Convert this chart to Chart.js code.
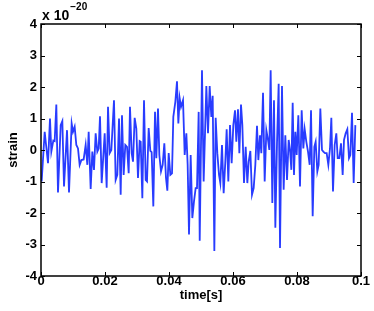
<!DOCTYPE html>
<html>
<head>
<meta charset="utf-8">
<script src="https://cdn.jsdelivr.net/npm/chart.js@4"></script>
<style>
  html, body { margin: 0; padding: 0; background: #fff; }
  canvas { display: block; }
</style>
</head>
<body>
<canvas id="chart" width="374" height="311"></canvas>
<script>
// time in milliseconds, strain in units of 1e-20
const timeMs = [
  0.2, 1.15, 2.19, 2.81, 3.23, 3.85, 4.27, 4.79, 5.31, 6.15,
  6.67, 7.19, 8.13, 8.75, 9.58, 10.0, 10.52, 11.04, 11.56, 12.08,
  12.6, 13.33, 13.96, 14.48, 14.9, 15.52, 16.04, 16.56, 17.08, 17.6,
  18.02, 18.44, 18.96, 19.9, 20.52, 20.94, 21.46, 21.98, 22.81, 23.33,
  23.85, 24.38,
  24.9, 25.31, 25.83, 26.35, 26.88, 27.4, 27.81, 28.33, 28.75, 29.27,
  29.79, 30.31, 30.83, 31.15, 31.67, 32.19, 32.71, 33.13, 33.65, 34.17,
  34.58, 35.1, 35.63, 36.04, 36.56, 36.98, 37.5, 38.02, 38.54, 39.06,
  39.48, 39.9, 40.42, 40.94, 41.35, 41.98, 42.5, 42.92, 43.33, 43.75,
  44.38, 44.9, 45.42, 45.83, 46.25, 46.77, 47.29, 47.81, 48.33, 48.75,
  49.27, 49.6,
  50.31, 50.83, 51.67, 52.19, 52.71, 53.23, 53.65, 54.17, 54.58, 55.1,
  55.63, 56.04, 56.56, 57.08, 57.6, 58.02, 58.54, 59.06, 59.58, 60.1,
  60.63, 61.04, 61.56, 61.98, 62.5, 62.92, 63.44, 63.96, 64.48, 64.9,
  65.42, 65.94, 66.46, 66.98, 67.5, 67.92, 68.44, 68.85, 69.38, 69.9,
  70.42, 70.94, 71.35, 71.77, 72.29, 72.81, 73.23, 73.75, 74.27, 74.69,
  75.31, 75.83, 76.35, 76.88, 77.4, 77.81, 78.23, 78.65, 79.06, 79.48,
  79.9, 80.42, 80.94, 81.46, 81.98, 82.4, 82.92, 83.44, 83.96, 84.38,
  84.9, 85.42, 85.83, 86.35, 86.77, 87.29, 87.81, 88.23, 88.75, 89.27,
  89.79, 90.31, 90.73, 91.25, 91.77, 92.29, 92.71, 93.23, 93.75, 94.27,
  94.69, 95.21, 95.73, 96.25, 96.67, 97.19, 97.71, 98.23
];
const strain = [
  -1.0, 0.58, -0.42, 1.0, -0.05, 0.3, 0.28, 1.44, -1.35, 0.79,
  0.92, -1.16, 0.63, -1.35, 0.84, 0.58, 0.74, 0.16, 0.05, -0.47,
  -0.32, -0.3, 0.16, -0.47, 0.58, -1.24, -0.05, -0.63, 0.53, -0.05,
  0.05, 1.07, -1.05, 0.53, -1.2, 1.37, -0.1, 0, 1.58, -0.95,
  -0.79, 1.0,
  -1.42, 1.1, -0.79, 0.16, 0.1, -0.74, 1.37, -0.1, -0.37, 1.02,
  0.68, -0.89, 0.28, 0.26, -1.53, 1.58, -0.95, -1.0, 0.7, -0.03,
  -0.07, -1.79, 1.21, -0.26, 1.32, -0.16, -0.68, -0.47, 0.21, -0.89,
  -1.29, -0.1, -0.79, -0.74, 1.05, 1.53, 2.18, 0.84, 1.65, 1.37,
  1.58, -0.16, 0.53, -0.47, -2.68, -0.16, -2.16, -1.63, -1.21, -1.21,
  1.21, -2.88,
  2.53, -1.0, 2.03, 0.53, 2.03, 1.05, 1.72, -3.21, 1.02, -0.1,
  -0.79, -1.05, 0.16, -1.37, -0.37, 0.66, -1.0, 0.79, -0.42, 0.79,
  1.26, 0.26, 1.29, -0.1, 1.44, 0.79, -1.05, 0.1, -1.05, -0.37,
  -0.03, -1.42, -1.21, -0.47, 0.77, -0.32, 0.47, -0.1, 1.82, -1.0,
  0.63, 0.32, 0, 2.53, -1.68, 1.58, -2.47, 0.21, 2.1, -3.11,
  2.03, -1.26, 0.47, -0.95, 0.32, 0, -0.63, 1.5, -0.79, 0.58,
  -0.16, 1.1, -1.16, 1.26, 0.05, 0.66, 0.26, -0.05, -0.47, 1.26,
  -2.1, 0.1, 0.26, -0.68, -0.47, 1.32, 0, -0.05, -0.1, -0.1,
  -0.47, 0.05, 1.02, -1.32, 0.16, 0.53, -0.26, -0.26, 0.21, -0.79,
  0.32, 0.53, 0.66, -0.26, -0.16, 1.18, -1.05, 0.79
];
const xTicks = [0, 0.02, 0.04, 0.06, 0.08, 0.1];
const yTicks = [-4, -3, -2, -1, 0, 1, 2, 3, 4];

const font = { family: "'Liberation Sans', Arial, sans-serif", weight: "bold", size: 13 };

// matlab style box with inward ticks + exponent label
const boxPlugin = {
    id: "box",
    afterDraw(c) {
        const ctx = c.ctx;
        const a = c.chartArea;
        const xs = c.scales.x, ys = c.scales.y;
        ctx.save();
        ctx.strokeStyle = "#000";
        ctx.lineWidth = 1.5;
        ctx.strokeRect(a.left, a.top, a.right - a.left, a.bottom - a.top);
        ctx.lineWidth = 1;
        ctx.beginPath();
        xTicks.forEach(v => {
            const px = Math.round(xs.getPixelForValue(v)) + 0.5;
            ctx.moveTo(px, a.bottom); ctx.lineTo(px, a.bottom - 4);
            ctx.moveTo(px, a.top); ctx.lineTo(px, a.top + 4);
        });
        yTicks.forEach(v => {
            const py = Math.round(ys.getPixelForValue(v)) + 0.5;
            ctx.moveTo(a.left, py); ctx.lineTo(a.left + 4, py);
            ctx.moveTo(a.right, py); ctx.lineTo(a.right - 4, py);
        });
        ctx.stroke();
        ctx.fillStyle = "#000";
        ctx.textBaseline = "alphabetic";
        ctx.font = "bold 14px 'Liberation Sans', Arial, sans-serif";
        ctx.fillText("x 10", 42, 20);
        const w = ctx.measureText("x 10").width;
        ctx.font = "bold 10px 'Liberation Sans', Arial, sans-serif";
        ctx.fillText("\u221220", 42 + w + 1, 10);
        ctx.restore();
    }
};

const ctx = document.getElementById("chart").getContext("2d");
new Chart(ctx, {
    type: "line",
    data: {
        datasets: [{
            data: timeMs.map((t, i) => ({ x: t / 1000, y: strain[i] })),
            borderColor: "rgb(40, 60, 255)",
            borderWidth: 1.8,
            pointRadius: 0,
            tension: 0,
            fill: false
        }]
    },
    options: {
        responsive: false,
        animation: false,
        layout: { padding: { top: 24, right: 13, left: 0, bottom: 8 } },
        plugins: { legend: { display: false }, tooltip: { enabled: false } },
        scales: {
            x: {
                type: "linear",
                min: 0, max: 0.1,
                afterBuildTicks: s => { s.ticks = xTicks.map(v => ({ value: v })); },
                afterFit: s => { s.height = 27; },
                grid: { display: false, drawTicks: false },
                border: { display: false },
                ticks: { font, color: "#000", padding: -2, maxRotation: 0, autoSkip: false,
                    callback: v => String(v) },
                title: { display: true, text: "time[s]", font, color: "#000", padding: { top: 0, bottom: 0 } }
            },
            y: {
                min: -4, max: 4,
                afterBuildTicks: s => { s.ticks = yTicks.map(v => ({ value: v })); },
                afterFit: s => { s.width = 41; },
                grid: { display: false, drawTicks: false },
                border: { display: false },
                ticks: { font, color: "#000", padding: 4, autoSkip: false,
                    callback: v => String(v) },
                title: { display: true, text: "strain", font, color: "#000", padding: { top: 6, bottom: 0 } }
            }
        }
    },
    plugins: [boxPlugin]
});
</script>
</body>
</html>
